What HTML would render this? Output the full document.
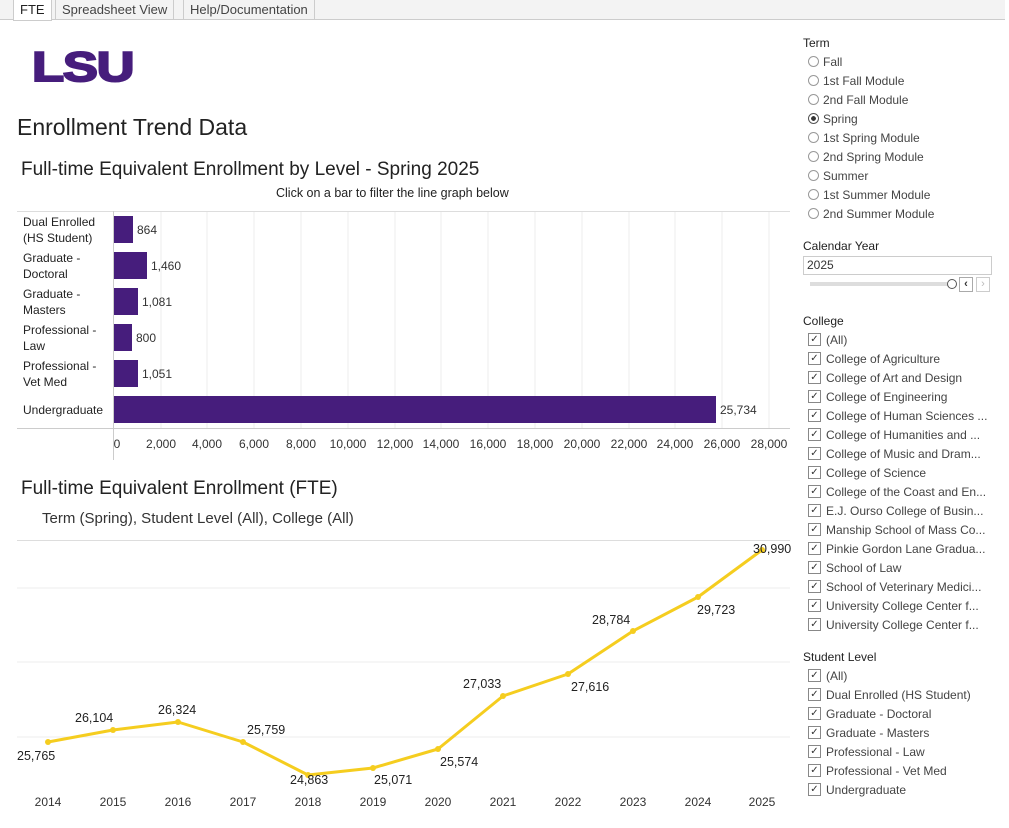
<!DOCTYPE html>
<html><head><meta charset="utf-8"><style>
body{margin:0;width:1009px;height:828px;background:#fff;font-family:"Liberation Sans","DejaVu Sans",sans-serif;position:relative;overflow:hidden;color:#333}
.a{position:absolute;white-space:nowrap}
.tab{position:absolute;top:0;height:19px;border:1px solid #ccc;border-top:none;font-size:13px;line-height:19px;padding:0 6px;color:#444;background:#f3f3f3}
.r{position:absolute;left:808px;font-size:12px;color:#444;white-space:nowrap;display:flex;align-items:center;height:15px}
.rad{display:inline-block;width:11px;height:11px;border:1px solid #999;border-radius:50%;margin-right:4px;box-sizing:border-box}
.cb{display:inline-block;width:13px;height:13px;border:1px solid #888;margin-right:5px;box-sizing:border-box;font-size:10px;line-height:11px;text-align:center;color:#333}
.h{position:absolute;left:803px;font-size:12px;color:#222}
</style></head><body>
<div style="position:absolute;left:0;top:0;width:1005px;height:19px;background:#f3f3f3"></div>
<div style="position:absolute;left:0;top:19px;width:1005px;border-top:1px solid #ccc"></div>
<div class="tab" style="left:13px;background:#fff;color:#222;height:20px">FTE</div>
<div class="tab" style="left:55px">Spreadsheet View</div>
<div class="tab" style="left:183px">Help/Documentation</div>
<div class="a" style="left:32px;top:43px;font:900 42px 'Liberation Sans',sans-serif;color:#461d7c;letter-spacing:-1px;transform:scaleX(1.25);transform-origin:left;line-height:48px;-webkit-text-stroke:2px #461d7c">LSU</div>
<div class="a" style="left:17px;top:114px;font-size:23px;color:#222">Enrollment Trend Data</div>
<div class="a" style="left:21px;top:159px;font-size:19px;color:#222">Full-time Equivalent Enrollment by Level - Spring 2025</div>
<div class="a" style="left:276px;top:186px;font-size:12.5px;color:#222">Click on a bar to filter the line graph below</div>
<div class="a" style="left:21px;top:478px;font-size:19px;color:#222">Full-time Equivalent Enrollment (FTE)</div>
<div class="a" style="left:42px;top:510px;font-size:15px;color:#333">Term (Spring), Student Level (All), College (All)</div>
<svg class="a" style="left:0;top:0" width="800" height="828" font-family="Liberation Sans, sans-serif" font-size="12" fill="#333">
<g stroke="#ececec">
<line x1="161" y1="211" x2="161" y2="428"/><line x1="207" y1="211" x2="207" y2="428"/><line x1="254" y1="211" x2="254" y2="428"/><line x1="301" y1="211" x2="301" y2="428"/><line x1="348" y1="211" x2="348" y2="428"/><line x1="395" y1="211" x2="395" y2="428"/><line x1="441" y1="211" x2="441" y2="428"/><line x1="488" y1="211" x2="488" y2="428"/><line x1="535" y1="211" x2="535" y2="428"/><line x1="582" y1="211" x2="582" y2="428"/><line x1="629" y1="211" x2="629" y2="428"/><line x1="675" y1="211" x2="675" y2="428"/><line x1="722" y1="211" x2="722" y2="428"/><line x1="769" y1="211" x2="769" y2="428"/>
<line x1="17" y1="588" x2="790" y2="588"/><line x1="17" y1="662" x2="790" y2="662"/><line x1="17" y1="737" x2="790" y2="737"/>
</g>
<line x1="17" y1="211.5" x2="790" y2="211.5" stroke="#ddd"/>
<line x1="17" y1="428.5" x2="790" y2="428.5" stroke="#ccc"/>
<line x1="113.5" y1="211" x2="113.5" y2="460" stroke="#ccc"/>
<line x1="17" y1="540.5" x2="790" y2="540.5" stroke="#ddd"/>
<g fill="#461d7c">
<rect x="114" y="216" width="19" height="27"/><rect x="114" y="252" width="33" height="27"/><rect x="114" y="288" width="24" height="27"/><rect x="114" y="324" width="18" height="27"/><rect x="114" y="360" width="24" height="27"/><rect x="114" y="396" width="602" height="27"/>
</g>
<g fill="#222">
<text x="23" y="226">Dual Enrolled</text><text x="23" y="242">(HS Student)</text>
<text x="23" y="262">Graduate -</text><text x="23" y="278">Doctoral</text>
<text x="23" y="298">Graduate -</text><text x="23" y="314">Masters</text>
<text x="23" y="334">Professional -</text><text x="23" y="350">Law</text>
<text x="23" y="370">Professional -</text><text x="23" y="386">Vet Med</text>
<text x="23" y="414">Undergraduate</text>
</g>
<text x="137" y="234">864</text><text x="151" y="270">1,460</text><text x="142" y="306">1,081</text><text x="136" y="342">800</text><text x="142" y="378">1,051</text><text x="720" y="414">25,734</text>
<g text-anchor="middle">
<text x="117" y="448">0</text><text x="161" y="448">2,000</text><text x="207" y="448">4,000</text><text x="254" y="448">6,000</text><text x="301" y="448">8,000</text><text x="348" y="448">10,000</text><text x="395" y="448">12,000</text><text x="441" y="448">14,000</text><text x="488" y="448">16,000</text><text x="535" y="448">18,000</text><text x="582" y="448">20,000</text><text x="629" y="448">22,000</text><text x="675" y="448">24,000</text><text x="722" y="448">26,000</text><text x="769" y="448">28,000</text>
</g>
<polyline fill="none" stroke="#f5cd1f" stroke-width="3" stroke-linejoin="round" points="48,742 113,730 178,722 243,742 308,775 373,768 438,749 503,696 568,674 633,631 698,597 762,550"/>
<g fill="#f5cd1f">
<circle cx="48" cy="742" r="3"/><circle cx="113" cy="730" r="3"/><circle cx="178" cy="722" r="3"/><circle cx="243" cy="742" r="3"/><circle cx="308" cy="775" r="3"/><circle cx="373" cy="768" r="3"/><circle cx="438" cy="749" r="3"/><circle cx="503" cy="696" r="3"/><circle cx="568" cy="674" r="3"/><circle cx="633" cy="631" r="3"/><circle cx="698" cy="597" r="3"/><circle cx="762" cy="550" r="3"/>
</g>
<g fill="#222" font-size="12.5">
<text x="17" y="760">25,765</text><text x="75" y="722">26,104</text><text x="158" y="714">26,324</text><text x="247" y="734">25,759</text><text x="290" y="784">24,863</text><text x="374" y="784">25,071</text><text x="440" y="766">25,574</text><text x="463" y="688">27,033</text><text x="571" y="691">27,616</text><text x="592" y="624">28,784</text><text x="697" y="614">29,723</text><text x="753" y="553">30,990</text>
</g>
<g text-anchor="middle" fill="#333">
<text x="48" y="806">2014</text><text x="113" y="806">2015</text><text x="178" y="806">2016</text><text x="243" y="806">2017</text><text x="308" y="806">2018</text><text x="373" y="806">2019</text><text x="438" y="806">2020</text><text x="503" y="806">2021</text><text x="568" y="806">2022</text><text x="633" y="806">2023</text><text x="698" y="806">2024</text><text x="762" y="806">2025</text>
</g>
</svg>
<div class="h" style="top:36px">Term</div>
<div class="r" style="top:54px"><span class="rad"></span>Fall</div>
<div class="r" style="top:73px"><span class="rad"></span>1st Fall Module</div>
<div class="r" style="top:92px"><span class="rad"></span>2nd Fall Module</div>
<div class="r" style="top:111px"><span class="rad" style="border-color:#555;background:radial-gradient(#333 35%,#fff 40%)"></span>Spring</div>
<div class="r" style="top:130px"><span class="rad"></span>1st Spring Module</div>
<div class="r" style="top:149px"><span class="rad"></span>2nd Spring Module</div>
<div class="r" style="top:168px"><span class="rad"></span>Summer</div>
<div class="r" style="top:187px"><span class="rad"></span>1st Summer Module</div>
<div class="r" style="top:206px"><span class="rad"></span>2nd Summer Module</div>
<div class="h" style="top:239px">Calendar Year</div>
<div style="position:absolute;left:803px;top:256px;border:1px solid #ccc;font-size:12px;line-height:17px;padding-left:3px;box-sizing:border-box;width:189px;height:19px">2025</div>
<div style="position:absolute;left:810px;top:282px;width:140px;height:4px;background:#ddd"></div>
<div style="position:absolute;left:947px;top:279px;width:8px;height:8px;border:1px solid #555;border-radius:50%;background:#fff"></div>
<div style="position:absolute;left:959px;top:277px;width:12px;height:13px;border:1px solid #aaa;font-size:11px;line-height:12px;text-align:center;font-weight:bold">&lsaquo;</div>
<div style="position:absolute;left:976px;top:277px;width:12px;height:13px;border:1px solid #ccc;font-size:11px;line-height:12px;text-align:center;color:#bbb">&rsaquo;</div>
<div class="h" style="top:314px">College</div>
<div class="r" style="top:332px"><span class="cb">✓</span>(All)</div>
<div class="r" style="top:351px"><span class="cb">✓</span>College of Agriculture</div>
<div class="r" style="top:370px"><span class="cb">✓</span>College of Art and Design</div>
<div class="r" style="top:389px"><span class="cb">✓</span>College of Engineering</div>
<div class="r" style="top:408px"><span class="cb">✓</span>College of Human Sciences ...</div>
<div class="r" style="top:427px"><span class="cb">✓</span>College of Humanities and ...</div>
<div class="r" style="top:446px"><span class="cb">✓</span>College of Music and Dram...</div>
<div class="r" style="top:465px"><span class="cb">✓</span>College of Science</div>
<div class="r" style="top:484px"><span class="cb">✓</span>College of the Coast and En...</div>
<div class="r" style="top:503px"><span class="cb">✓</span>E.J. Ourso College of Busin...</div>
<div class="r" style="top:522px"><span class="cb">✓</span>Manship School of Mass Co...</div>
<div class="r" style="top:541px"><span class="cb">✓</span>Pinkie Gordon Lane Gradua...</div>
<div class="r" style="top:560px"><span class="cb">✓</span>School of Law</div>
<div class="r" style="top:579px"><span class="cb">✓</span>School of Veterinary Medici...</div>
<div class="r" style="top:598px"><span class="cb">✓</span>University College Center f...</div>
<div class="r" style="top:617px"><span class="cb">✓</span>University College Center f...</div>
<div class="h" style="top:650px">Student Level</div>
<div class="r" style="top:668px"><span class="cb">✓</span>(All)</div>
<div class="r" style="top:687px"><span class="cb">✓</span>Dual Enrolled (HS Student)</div>
<div class="r" style="top:706px"><span class="cb">✓</span>Graduate - Doctoral</div>
<div class="r" style="top:725px"><span class="cb">✓</span>Graduate - Masters</div>
<div class="r" style="top:744px"><span class="cb">✓</span>Professional - Law</div>
<div class="r" style="top:763px"><span class="cb">✓</span>Professional - Vet Med</div>
<div class="r" style="top:782px"><span class="cb">✓</span>Undergraduate</div>
</body></html>
